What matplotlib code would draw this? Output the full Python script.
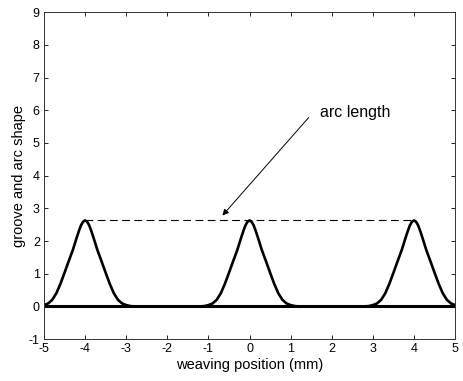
import numpy as np
import matplotlib
matplotlib.use('Agg')
import matplotlib.pyplot as plt

plt.rcParams['font.family'] = ['Liberation Sans', 'DejaVu Sans']
plt.rcParams['axes.unicode_minus'] = False

# peak centres (mm) and one groove profile
centres = [-4, 0, 4]
offset = [-1.2, -1.1, -1.0, -0.9, -0.8, -0.7, -0.6, -0.5, -0.4, -0.3, -0.25, -0.2, -0.15, -0.1, -0.05, 0.0,
          0.05, 0.1, 0.15, 0.2, 0.25, 0.3, 0.4, 0.5, 0.6, 0.7, 0.8, 0.9, 1.0, 1.1, 1.2]
height = [0.0, 0.01, 0.04, 0.09, 0.2, 0.4, 0.69, 1.03, 1.38, 1.72, 1.92, 2.12, 2.31, 2.48, 2.59, 2.63,
          2.59, 2.48, 2.31, 2.12, 1.92, 1.72, 1.38, 1.03, 0.69, 0.4, 0.2, 0.09, 0.04, 0.01, 0.0]
arc_level = 2.63
xticks = [-5, -4, -3, -2, -1, 0, 1, 2, 3, 4, 5]
yticks = [-1, 0, 1, 2, 3, 4, 5, 6, 7, 8, 9]

fig = plt.figure(figsize=(4.63, 3.81), dpi=100)
ax = fig.add_axes([0.095, 0.11, 0.888, 0.858])

off = np.array(offset)
for c in centres:
    x = off + c
    m = (x >= -5) & (x <= 5)
    ax.plot(x[m], np.array(height)[m], color='black', lw=1.9, solid_joinstyle='round')

ax.plot([-5, 5], [0, 0], color='black', lw=2.2)
ax.plot([centres[0], centres[-1]], [arc_level, arc_level], color='black', lw=0.8,
        dashes=(7, 4))

# arrow from the label down to the dashed arc line
ax.annotate('', xy=(-0.66, 2.78), xytext=(1.44, 5.78),
            arrowprops=dict(arrowstyle='-|>', color='black', lw=0.7,
                            mutation_scale=9, shrinkA=0, shrinkB=0))
ax.text(1.72, 5.93, 'arc length', fontsize=11.5, va='center', ha='left')

ax.set_xlim(-5, 5)
ax.set_ylim(-1, 9)
ax.set_xticks(xticks)
ax.set_yticks(yticks)
ax.tick_params(direction='in', length=3, width=0.6, labelsize=9,
               top=True, right=True, pad=3)
for s in ax.spines.values():
    s.set_linewidth(0.7)
    s.set_color('#333333')
ax.set_xlabel('weaving position (mm)', fontsize=10.5, labelpad=2)
ax.set_ylabel('groove and arc shape', fontsize=10.5, labelpad=2)

fig.savefig('out.png', dpi=100)
